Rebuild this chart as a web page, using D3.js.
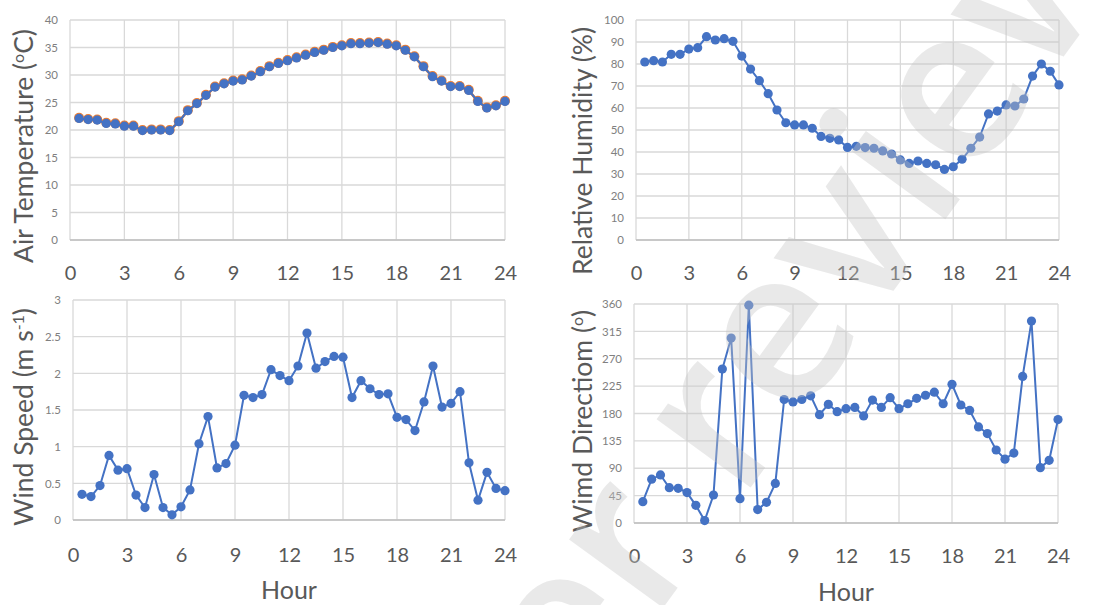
<!DOCTYPE html>
<html>
<head>
<meta charset="utf-8">
<script src="https://cdn.jsdelivr.net/npm/d3@7"></script>
<style>
  body { margin: 0; background: #fff; }
  text { font-family: Lato, "Open Sans", sans-serif; }
</style>
</head>
<body>
<svg id="chart" width="1105" height="605"></svg>
<script>
// half-hourly readings
const hours = [0.5, 1, 1.5, 2, 2.5, 3, 3.5, 4, 4.5, 5, 5.5, 6, 6.5, 7, 7.5, 8, 8.5, 9, 9.5, 10, 10.5, 11, 11.5, 12,
  12.5, 13, 13.5, 14, 14.5, 15, 15.5, 16, 16.5, 17, 17.5, 18, 18.5, 19, 19.5, 20, 20.5, 21, 21.5, 22, 22.5, 23, 23.5, 24];

const airTemp = [22.1, 21.9, 21.8, 21.2, 21.1, 20.7, 20.7, 19.9, 20.0, 20.0, 19.9, 21.5, 23.5, 24.8, 26.3, 27.8,
  28.4, 28.9, 29.1, 29.8, 30.6, 31.5, 32.1, 32.6, 33.1, 33.6, 34.1, 34.5, 35.0, 35.3, 35.7, 35.7, 35.8, 35.9,
  35.6, 35.3, 34.5, 33.3, 31.5, 29.7, 28.9, 27.9, 27.9, 27.2, 25.2, 24.0, 24.4, 25.2];

const humidity = [80.9, 81.5, 80.9, 84.4, 84.4, 86.8, 87.4, 92.4, 90.9, 91.5, 90.3, 83.6, 77.7, 72.4, 66.5, 59.1,
  53.3, 52.3, 52.3, 50.8, 47.1, 46.2, 45.5, 42.1, 42.6, 42.0, 41.7, 40.5, 39.1, 36.4, 34.8, 35.9, 34.8, 34.2,
  32.1, 33.3, 36.7, 41.7, 46.8, 57.3, 58.6, 61.4, 60.9, 64.1, 74.5, 80.0, 76.7, 70.5];

const windSpeed = [0.35, 0.32, 0.47, 0.88, 0.68, 0.70, 0.34, 0.17, 0.62, 0.17, 0.07, 0.18, 0.41, 1.04, 1.41, 0.71,
  0.77, 1.02, 1.70, 1.67, 1.71, 2.05, 1.97, 1.90, 2.10, 2.55, 2.07, 2.16, 2.23, 2.22, 1.67, 1.90, 1.79, 1.71,
  1.72, 1.40, 1.37, 1.22, 1.61, 2.10, 1.54, 1.59, 1.75, 0.78, 0.27, 0.65, 0.43, 0.40];

const windDir = [35, 72, 79, 58, 57, 50, 29, 4, 46, 253, 304, 40, 358, 22, 34, 65, 203, 199, 203, 209, 178, 195,
  183, 188, 190, 176, 202, 190, 206, 188, 196, 205, 210, 215, 196, 228, 194, 185, 158, 147, 120, 105, 115, 241,
  332, 91, 103, 170];

const hourTicks = [0, 3, 6, 9, 12, 15, 18, 21, 24];
const tempTicks = [0, 5, 10, 15, 20, 25, 30, 35, 40];
const humTicks = [0, 10, 20, 30, 40, 50, 60, 70, 80, 90, 100];
const speedTicks = [0, 0.5, 1, 1.5, 2, 2.5, 3];
const dirTicks = [0, 45, 90, 135, 180, 225, 270, 315, 360];

const BLUE = "#4472C4";
const ORANGE = "#ED7D31";

const svg = d3.select("#chart");

const panels = [
  { values: airTemp, ticks: tempTicks, left: 70, right: 505, top: 20, bottom: 240,
    title: ["Air Temperature (", "o", "C)"], titleX: 24, titleY: 146, tickY: 280, shadow: true },
  { values: humidity, ticks: humTicks, left: 636, right: 1059, top: 20, bottom: 240,
    title: ["Relative Humidity (%)"], titleX: 583, titleY: 151, tickY: 280 },
  { values: windSpeed, ticks: speedTicks, left: 73, right: 505, top: 300, bottom: 520,
    title: ["Wind Speed (m s", "-1", ")"], titleX: 24, titleY: 417, tickY: 562, hourY: 599 },
  { values: windDir, ticks: dirTicks, left: 634, right: 1058, top: 304, bottom: 523,
    title: ["Wimd Directiom (", "o", ")"], titleX: 583, titleY: 421, tickY: 563, hourY: 601 },
];

panels.forEach(drawPanel);

function drawPanel(p) {
  const x = d3.scaleLinear().domain([0, 24]).range([p.left, p.right]);
  const y = d3.scaleLinear().domain(d3.extent(p.ticks)).range([p.bottom, p.top]);
  const g = svg.append("g");

  // grid
  g.selectAll(".hgrid").data(p.ticks).join("line")
    .attr("x1", p.left).attr("x2", p.right)
    .attr("y1", d => y(d)).attr("y2", d => y(d))
    .attr("stroke", "#d9d9d9").attr("stroke-width", 1.3);
  g.selectAll(".vgrid").data(hourTicks).join("line")
    .attr("x1", d => x(d)).attr("x2", d => x(d))
    .attr("y1", p.top).attr("y2", p.bottom)
    .attr("stroke", "#d9d9d9").attr("stroke-width", 1.3);
  g.append("line")
    .attr("x1", p.left).attr("x2", p.right)
    .attr("y1", p.bottom).attr("y2", p.bottom)
    .attr("stroke", "#bfbfbf").attr("stroke-width", 1.5);

  // axes (labels only)
  const yAxis = g.append("g")
    .attr("transform", `translate(${p.left - 12},0)`)
    .call(d3.axisLeft(y).tickValues(p.ticks).tickSize(0).tickFormat(d3.format("")));
  yAxis.select(".domain").remove();
  yAxis.selectAll("text").attr("x", 0).attr("font-size", 11.5).attr("fill", "#808080")
    .style("font-family", "Lato, sans-serif");

  const xAxis = g.append("g")
    .attr("transform", `translate(0,${p.tickY})`)
    .call(d3.axisBottom(x).tickValues(hourTicks).tickSize(0));
  xAxis.select(".domain").remove();
  xAxis.selectAll("text").attr("y", 0).attr("dy", 0).attr("font-size", 20).attr("fill", "#595959")
    .style("font-family", "Lato, sans-serif");

  const line = d3.line().x((d, i) => x(hours[i])).y(d => y(d));

  if (p.shadow) {
    g.append("path").datum(p.values).attr("d", line)
      .attr("fill", "none").attr("stroke", ORANGE).attr("stroke-width", 2.6);
    g.selectAll(".shadow").data(p.values).join("circle")
      .attr("cx", (d, i) => x(hours[i])).attr("cy", d => y(d) - 0.6).attr("r", 5)
      .attr("fill", ORANGE);
  }

  g.append("path").datum(p.values).attr("d", line)
    .attr("fill", "none").attr("stroke", BLUE).attr("stroke-width", 2);
  g.selectAll(".pt").data(p.values).join("circle")
    .attr("cx", (d, i) => x(hours[i])).attr("cy", d => y(d)).attr("r", 4.6)
    .attr("fill", BLUE);

  // y title
  const t = g.append("text")
    .attr("transform", `translate(${p.titleX},${p.titleY}) rotate(-90)`)
    .attr("dy", "0.35em")
    .attr("text-anchor", "middle")
    .attr("font-size", 26.5).attr("fill", "#595959");
  p.title.forEach((s, i) => {
    const ts = t.append("tspan").text(s);
    if (i === 1) ts.attr("font-size", 16).attr("baseline-shift", "super");
  });

  if (p.hourY) {
    g.append("text")
      .attr("x", (p.left + p.right) / 2).attr("y", p.hourY)
      .attr("text-anchor", "middle")
      .attr("font-size", 25).attr("fill", "#595959")
      .text("Hour");
  }
}

// watermark on top
svg.append("text")
  .attr("transform", "translate(727,392) rotate(-54)")
  .attr("text-anchor", "middle")
  .attr("dy", "0.35em")
  .attr("font-size", 215)
  .attr("font-weight", 600)
  .style("font-family", "'Open Sans', sans-serif")
  .attr("fill", "#c4c4c4").attr("fill-opacity", 0.38)
  .text("Peer review");
</script>
</body>
</html>
